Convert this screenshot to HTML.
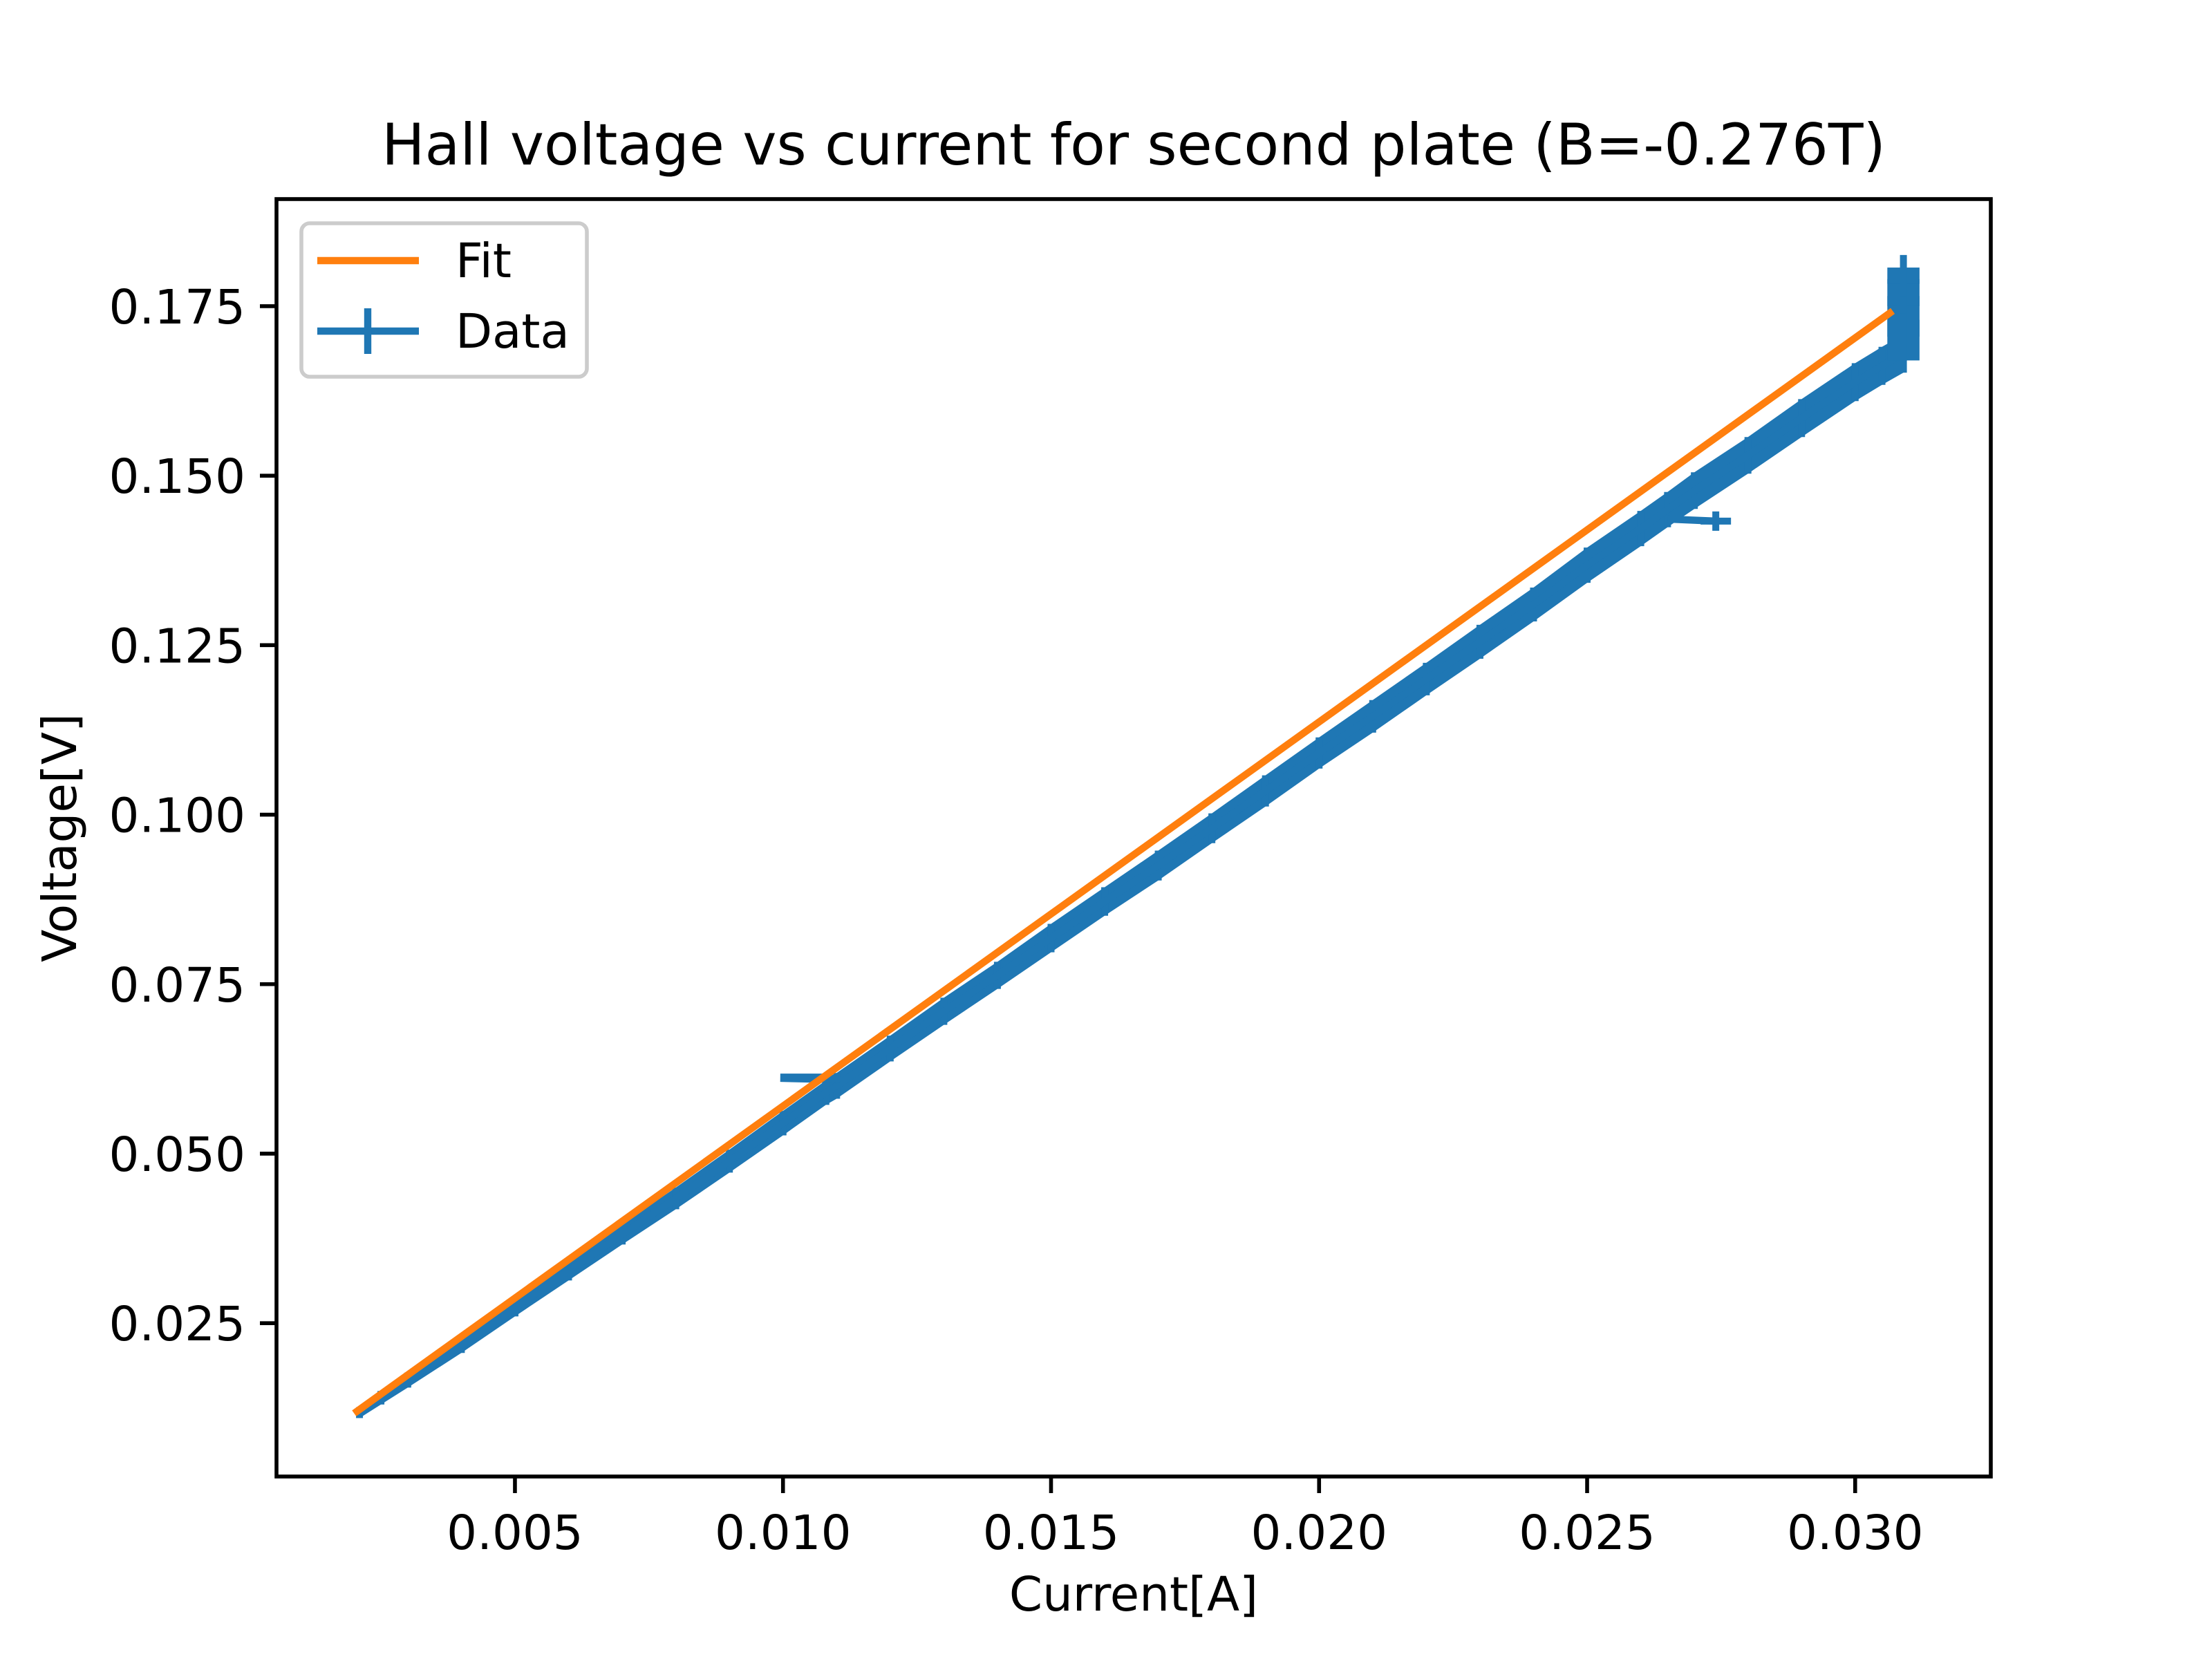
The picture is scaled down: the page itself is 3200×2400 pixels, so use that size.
<!DOCTYPE html>
<html><head><meta charset="utf-8"><style>
html,body{margin:0;padding:0;background:#fff;}
svg{display:block;font-family:"DejaVu Sans","Liberation Sans",sans-serif;}
</style></head><body>
<svg id="chart" width="3200" height="2400" viewBox="0 0 3200 2400" xmlns="http://www.w3.org/2000/svg">
<rect width="3200" height="2400" fill="#fff"/>
<text x="1640" y="238" font-size="83" text-anchor="middle">Hall voltage vs current for second plate (B=-0.276T)</text>
<g id="plot"></g>
<rect x="400" y="288" width="2480" height="1848" fill="none" stroke="#000" stroke-width="5.6"/>
<g id="xticks"></g>
<g id="yticks"></g>
<text x="1640" y="2330" font-size="69" text-anchor="middle">Current[A]</text>
<text x="0" y="0" font-size="69" text-anchor="middle" transform="translate(110,1212) rotate(-90)">Voltage[V]</text>
<g>
<rect x="436" y="323" width="413" height="222" rx="12" fill="#fff" fill-opacity="0.8" stroke="#ccc" stroke-width="5.6"/>
<line x1="459" y1="377" x2="606" y2="377" stroke="#ff7f0e" stroke-width="10.4"/>
<text x="659" y="401" font-size="69">Fit</text>
<line x1="459" y1="479" x2="606" y2="479" stroke="#1f77b4" stroke-width="10.4"/>
<line x1="532" y1="446" x2="532" y2="512" stroke="#1f77b4" stroke-width="10.4"/>
<text x="659" y="503" font-size="69">Data</text>
</g>
</svg>
<script>
const xTicks = [0.005, 0.010, 0.015, 0.020, 0.025, 0.030];
const xTickLabels = ["0.005", "0.010", "0.015", "0.020", "0.025", "0.030"];
const yTicks = [0.025, 0.050, 0.075, 0.100, 0.125, 0.150, 0.175];
const yTickLabels = ["0.025", "0.050", "0.075", "0.100", "0.125", "0.150", "0.175"];
const current = [0.0021,0.0025,0.003,0.004,0.005,0.006,0.007,0.008,0.009,0.010,0.0108,0.0110,0.012,0.013,0.014,0.015,0.016,0.017,0.018,0.019,0.020,0.021,0.022,0.023,0.024,0.025,0.026,0.0265,0.027,0.028,0.029,0.030,0.0305,0.0309];
const voltage = [0.0118,0.0140,0.0166,0.0218,0.0273,0.0327,0.0381,0.0434,0.0489,0.0545,0.0590,0.0600,0.0655,0.0710,0.0763,0.0818,0.0872,0.0925,0.0980,0.1035,0.1091,0.1145,0.1200,0.1255,0.1310,0.1368,0.1422,0.1450,0.1478,0.1530,0.1585,0.1638,0.1662,0.1680];
const voltageErr = [0.0008,0.0010,0.0011,0.0012,0.0013,0.0014,0.0015,0.0016,0.0017,0.0018,0.0018,0.0019,0.0019,0.0020,0.0020,0.0021,0.0021,0.0022,0.0022,0.0023,0.0023,0.0024,0.0024,0.0025,0.0025,0.0026,0.0026,0.0026,0.0027,0.0027,0.0028,0.0028,0.0028,0.0028];
const spikeCurrent = [0.0108, 0.00995, 0.0110];
const spikeVoltage = [0.0612, 0.0612, 0.0610];
const outlierCurrent = [0.0265, 0.0274];
const outlierVoltage = [0.1436, 0.1433];
const clusterCurrent = [0.0309, 0.0309, 0.0309, 0.0309];
const clusterVoltage = [0.1700, 0.1735, 0.1770, 0.1795];
const clusterErrX = [0.0003, 0.0003, 0.0003, 0.0003];
const clusterErrY = [0.0030, 0.0030, 0.0020, 0.0012];
const fitCurrent = [0.0020, 0.0307];
const fitVoltage = [0.0117, 0.1743];

const X0 = 400, X1 = 2880, Y0 = 2136, Y1 = 288;
const xMin = 0.000552, xMax = 0.03253, yMin = 0.00238, yMax = 0.1908;
const sx = v => X0 + (v - xMin) / (xMax - xMin) * (X1 - X0);
const sy = v => Y0 - (v - yMin) / (yMax - yMin) * (Y0 - Y1);
const NS = "http://www.w3.org/2000/svg";
function mk(tag, attrs, parent) {
  const e = document.createElementNS(NS, tag);
  for (const k in attrs) e.setAttribute(k, attrs[k]);
  parent.appendChild(e);
  return e;
}
const plot = document.getElementById('plot');
const blue = "#1f77b4";

for (let i = 0; i + 1 < current.length; i++) {
  const xa = sx(current[i]), xb = sx(current[i+1]);
  const pts = [xa, sy(voltage[i] + voltageErr[i]), xb, sy(voltage[i+1] + voltageErr[i+1]), xb, sy(voltage[i+1] - voltageErr[i+1]), xa, sy(voltage[i] - voltageErr[i])];
  const q = mk('polygon', {points: pts.join(' '), fill: blue}, plot);
  
  
}
for (let i = 0; i < current.length; i++) {
  const b = mk('line', {x1: sx(current[i]), x2: sx(current[i]), y1: sy(voltage[i] - voltageErr[i]), y2: sy(voltage[i] + voltageErr[i]), stroke: blue, 'stroke-width': 10}, plot);
  
  
}
const dl = mk('polyline', {points: current.map((c, i) => sx(c) + ',' + sy(voltage[i])).join(' '), fill: 'none', stroke: blue, 'stroke-width': 10.4, 'stroke-linejoin': 'round'}, plot);


const sp = mk('polyline', {points: spikeCurrent.map((c, i) => sx(c) + ',' + sy(spikeVoltage[i])).join(' '), fill: 'none', stroke: blue, 'stroke-width': 12, 'stroke-linecap': 'round'}, plot);


const op = mk('polyline', {points: outlierCurrent.map((c, i) => sx(c) + ',' + sy(outlierVoltage[i])).join(' '), fill: 'none', stroke: blue, 'stroke-width': 10.4}, plot);


const last = outlierCurrent.length - 1;
const om = mk('path', {d: 'M' + (sx(outlierCurrent[last]) - 22) + ' ' + sy(outlierVoltage[last]) + 'h44M' + sx(outlierCurrent[last]) + ' ' + (sy(outlierVoltage[last]) - 14) + 'v28', stroke: blue, 'stroke-width': 10}, plot);


for (let i = 0; i < clusterCurrent.length; i++) {
  const cx = sx(clusterCurrent[i]), cy = sy(clusterVoltage[i]);
  const r = mk('rect', {x: sx(clusterCurrent[i] - clusterErrX[i]), y: sy(clusterVoltage[i] + clusterErrY[i]), width: sx(clusterCurrent[i] + clusterErrX[i]) - sx(clusterCurrent[i] - clusterErrX[i]), height: sy(clusterVoltage[i] - clusterErrY[i]) - sy(clusterVoltage[i] + clusterErrY[i]), fill: blue}, plot);
  
  
  const v = mk('line', {x1: cx, x2: cx, y1: cy - 30, y2: cy + 30, stroke: blue, 'stroke-width': 10}, plot);
  
  
}
const fl = mk('line', {x1: sx(fitCurrent[0]), y1: sy(fitVoltage[0]), x2: sx(fitCurrent[1]), y2: sy(fitVoltage[1]), stroke: '#ff7f0e', 'stroke-width': 10.4}, plot);



const xg = document.getElementById('xticks');
xTicks.forEach((t, i) => {
  const x = sx(t);
  const l = mk('line', {x1: x, x2: x, y1: Y0, y2: Y0 + 24, stroke: '#000', 'stroke-width': 5.6}, xg);
  
  
  const tx = mk('text', {x: x, y: Y0 + 105, 'font-size': 69, 'text-anchor': 'middle'}, xg);
  tx.textContent = xTickLabels[i];
  
  
});
const yg = document.getElementById('yticks');
yTicks.forEach((t, i) => {
  const y = sy(t);
  const l = mk('line', {x1: X0 - 24, x2: X0, y1: y, y2: y, stroke: '#000', 'stroke-width': 5.6}, yg);
  
  
  const tx = mk('text', {x: X0 - 45, y: y + 25, 'font-size': 69, 'text-anchor': 'end'}, yg);
  tx.textContent = yTickLabels[i];
  
  
});
</script>
</body></html>
